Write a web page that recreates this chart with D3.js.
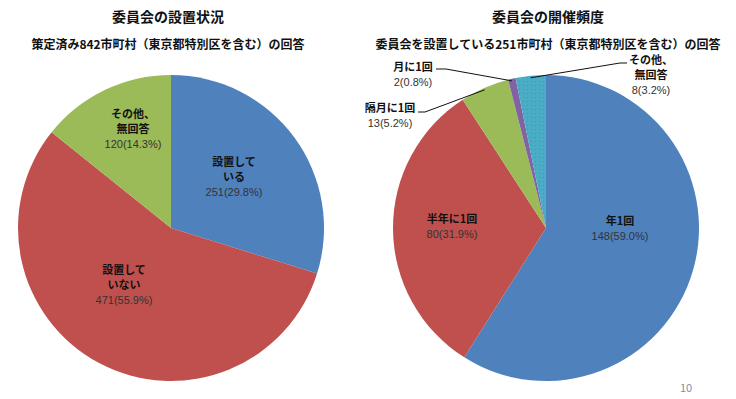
<!DOCTYPE html>
<html>
<head>
<meta charset="utf-8">
<script src="https://cdn.jsdelivr.net/npm/d3@7"></script>
<style>
  body { margin: 0; background: #fff; }
  svg text { font-family: "Noto Sans CJK JP", "Noto Sans", sans-serif; }
</style>
</head>
<body>
<svg id="chart" width="736" height="399"></svg>
<script>
// 左：委員会の設置状況
const leftCategories = ["設置して|いる", "設置して|いない", "その他、|無回答"];
const leftValues = [251, 471, 120];
const leftPercents = ["29.8%", "55.9%", "14.3%"];

// 右：委員会の開催頻度
const rightCategories = ["年1回", "半年に1回", "隔月に1回", "月に1回", "その他、|無回答"];
const rightValues = [148, 80, 13, 2, 8];
const rightPercents = ["59.0%", "31.9%", "5.2%", "0.8%", "3.2%"];

const leftColors = ["#4F81BD", "#C0504D", "#9BBB59"];
const rightColors = ["#4F81BD", "#C0504D", "#9BBB59", "#8064A2", "#4BACC6"];

const svg = d3.select("#chart");
const R = 153;

// 点々模様（元画像のディザっぽさ）
const defs = svg.append("defs");
const pat = defs.append("pattern").attr("id", "dots")
  .attr("width", 4).attr("height", 4).attr("patternUnits", "userSpaceOnUse");
pat.append("rect").attr("width", 4).attr("height", 4).attr("fill", "#4BACC6");
pat.append("rect").attr("x", 1).attr("y", 1).attr("width", 1).attr("height", 1).attr("fill", "#3f95ad");

function drawPie(cx, cy, values, colors, useDots) {
  const pie = d3.pie().sort(null).value(d => d);
  const arc = d3.arc().innerRadius(0).outerRadius(R);
  const g = svg.append("g").attr("transform", `translate(${cx},${cy})`);
  g.selectAll("path").data(pie(values)).join("path")
    .attr("d", arc)
    .attr("fill", (d, i) => (useDots && i === 4) ? "url(#dots)" : colors[i]);
  return { g, arcs: pie(values), arc };
}

function label(x, y, lines, value, pct) {
  const t = svg.append("text").attr("text-anchor", "middle").attr("font-size", 11);
  lines.forEach((ln, i) => {
    t.append("tspan").attr("x", x).attr("y", y + i * 15).attr("fill", "#111")
      .attr("font-weight", "bold").text(ln);
  });
  t.append("tspan").attr("x", x).attr("y", y + lines.length * 15).attr("fill", "#333")
    .attr("font-family", "'Liberation Sans', Arial, sans-serif").text(value + "(" + pct + ")");
}

// タイトル
function titles(x, title, sub) {
  svg.append("text").attr("x", x).attr("y", 22).attr("text-anchor", "middle")
    .attr("font-size", 14).attr("font-weight", "bold").attr("fill", "#111").text(title);
  svg.append("text").attr("x", x).attr("y", 49).attr("text-anchor", "middle")
    .attr("font-size", 12).attr("font-weight", "bold").attr("fill", "#111").text(sub);
}
titles(168, "委員会の設置状況", "策定済み842市町村（東京都特別区を含む）の回答");
titles(548, "委員会の開催頻度", "委員会を設置している251市町村（東京都特別区を含む）の回答");

const cyL = 228, cxL = 171, cxR = 546;
drawPie(cxL, cyL, leftValues, leftColors, false);
const right = drawPie(cxR, cyL, rightValues, rightColors, true);

// 左のラベル
const leftPos = [[234, 166], [124, 274], [133, 118]];
leftValues.forEach((v, i) => {
  label(leftPos[i][0], leftPos[i][1], leftCategories[i].split("|"), v, leftPercents[i]);
});

// 右のラベル
const rightPos = [[620, 225], [452, 223], [390, 112], [413, 71], [651, 64]];
rightValues.forEach((v, i) => {
  label(rightPos[i][0], rightPos[i][1], rightCategories[i].split("|"), v, rightPercents[i]);
});

// 引き出し線
const outer = d3.arc().innerRadius(R).outerRadius(R);
function leader(i, pts) {
  const c = outer.centroid(right.arcs[i]);
  const end = [cxR + c[0], cyL + c[1] + 2];
  svg.append("polyline")
    .attr("points", pts.concat([end]).map(p => p.join(",")).join(" "))
    .attr("fill", "none").attr("stroke", "#111").attr("stroke-width", 1);
}
leader(2, [[418, 112], [425, 112]]);
leader(3, [[436, 69], [446, 69]]);
leader(4, [[627, 63], [620, 63]]);

// ページ番号
svg.append("text").attr("x", 686).attr("y", 392).attr("text-anchor", "middle")
  .attr("font-size", 11).attr("fill", "#7f8fa6")
  .attr("font-family", "'Liberation Sans', Arial, sans-serif").text("10");
</script>
</body>
</html>
